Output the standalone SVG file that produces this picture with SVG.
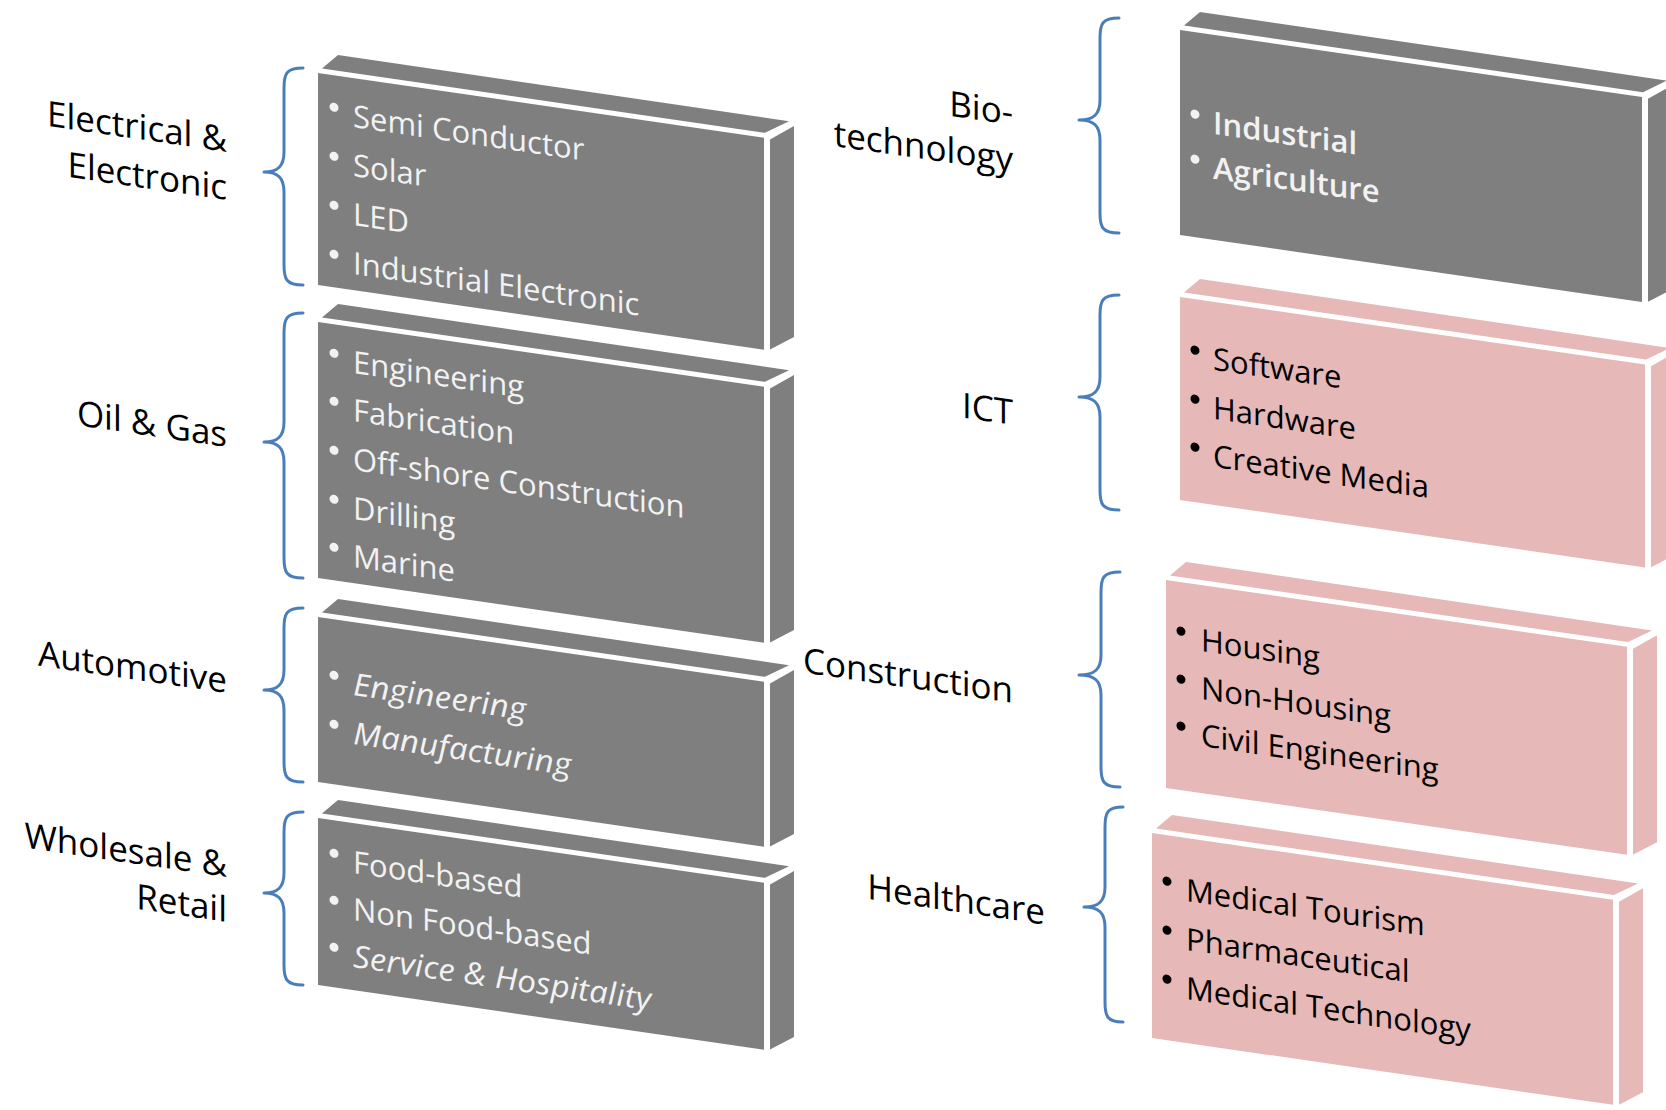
<svg xmlns="http://www.w3.org/2000/svg" width="1666" height="1110" viewBox="0 0 1666 1110">
<style>
.bg{fill:#ffffff}
.g{fill:#7f7f7f}
.p{fill:#e6b8b7}
.lbl{font-family:"Open Sans","Liberation Sans",sans-serif;font-size:35px;fill:#000;text-anchor:end}
.wt{font-family:"Open Sans","Liberation Sans",sans-serif;font-size:31px;fill:#f2f2f2}
.bt{font-family:"Open Sans","Liberation Sans",sans-serif;font-size:31px;fill:#000}
.it{font-style:italic}
.bd{font-weight:600}
.wb{fill:#f2f2f2}
.bb{fill:#000}
.brace{fill:none;stroke:#4a7ebb;stroke-width:3;stroke-linecap:round;stroke-linejoin:round}
</style>
<rect class="bg" x="0" y="0" width="1666" height="1110"/>

<g id="connectors">
<path class="brace" d="M303,68 C286,68 284,74 284,88 L284,152 C284,166 278,172 264,172 C278,172 284,178 284,192 L284,265 C284,279 286,285 303,285"/>
<path class="brace" d="M303,313 C286,313 284,319 284,333 L284,422 C284,436 278,442 264,442 C278,442 284,448 284,462 L284,558 C284,572 286,578 303,578"/>
<path class="brace" d="M303,608 C286,608 284,614 284,628 L284,670 C284,684 278,690 264,690 C278,690 284,696 284,710 L284,762 C284,776 286,782 303,782"/>
<path class="brace" d="M303,812 C286,812 284,818 284,832 L284,873 C284,887 278,893 264,893 C278,893 284,899 284,913 L284,965 C284,979 286,985 303,985"/>
<path class="brace" d="M1119,18 C1102,18 1100,24 1100,38 L1100,100 C1100,114 1094,120 1079,120 C1094,120 1100,126 1100,140 L1100,213 C1100,227 1102,233 1119,233"/>
<path class="brace" d="M1119,295 C1102,295 1100,301 1100,315 L1100,377 C1100,391 1094,397 1079,397 C1094,397 1100,403 1100,417 L1100,490 C1100,504 1102,510 1119,510"/>
<path class="brace" d="M1120,572 C1103,572 1101,578 1101,592 L1101,655 C1101,669 1095,675 1079,675 C1095,675 1101,681 1101,695 L1101,767 C1101,781 1103,787 1120,787"/>
<path class="brace" d="M1123,807 C1107,807 1105,813 1105,827 L1105,887 C1105,901 1099,907 1084,907 C1099,907 1105,913 1105,927 L1105,1002 C1105,1016 1107,1022 1123,1022"/>
</g>

<g id="labels" transform="matrix(1,0.145,0,1,0,0)">
<text class="lbl" x="227" y="119">Electrical &amp;</text>
<text class="lbl" x="227" y="167">Electronic</text>
<text class="lbl" x="227" y="414">Oil &amp; Gas</text>
<text class="lbl" x="227" y="660">Automotive</text>
<text class="lbl" x="227" y="844">Wholesale &amp;</text>
<text class="lbl" x="227" y="889">Retail</text>
<text class="lbl" x="1013" y="-22">Bio-</text>
<text class="lbl" x="1013" y="25">technology</text>
<text class="lbl" x="1013" y="278">ICT</text>
<text class="lbl" x="1013" y="556">Construction</text>
<text class="lbl" x="1045" y="773">Healthcare</text>
</g>

<g id="box-electrical" transform="matrix(1,0.145,0,1,318,73)">
<polygon class="g" points="4,-5 20,-21 471,-20 447,-5"/>
<rect class="g" x="0" y="0" width="446" height="212"/>
<polygon class="g" points="452,1 476,-16 476,195 452,211"/>
<circle class="wb" cx="16" cy="32" r="4.5"/><text class="wt" x="35" y="49">Semi Conductor</text>
<circle class="wb" cx="16" cy="81" r="4.5"/><text class="wt" x="35" y="98">Solar</text>
<circle class="wb" cx="16" cy="130" r="4.5"/><text class="wt" x="35" y="147">LED</text>
<circle class="wb" cx="16" cy="179" r="4.5"/><text class="wt" x="35" y="196">Industrial Electronic</text>
</g>

<g id="box-oilgas" transform="matrix(1,0.145,0,1,318,322)">
<polygon class="g" points="4,-5 20,-21 471,-20 447,-5"/>
<rect class="g" x="0" y="0" width="446" height="256"/>
<polygon class="g" points="452,1 476,-16 476,239 452,255"/>
<circle class="wb" cx="16" cy="29" r="4.5"/><text class="wt" x="35" y="46">Engineering</text>
<circle class="wb" cx="16" cy="77" r="4.5"/><text class="wt" x="35" y="94">Fabrication</text>
<circle class="wb" cx="16" cy="126" r="4.5"/><text class="wt" x="35" y="143">Off-shore Construction</text>
<circle class="wb" cx="16" cy="175" r="4.5"/><text class="wt" x="35" y="192">Drilling</text>
<circle class="wb" cx="16" cy="223" r="4.5"/><text class="wt" x="35" y="240">Marine</text>
</g>

<g id="box-automotive" transform="matrix(1,0.145,0,1,318,617)">
<polygon class="g" points="4,-5 20,-21 471,-20 447,-5"/>
<rect class="g" x="0" y="0" width="446" height="165"/>
<polygon class="g" points="452,1 476,-16 476,148 452,164"/>
<circle class="wb" cx="16" cy="56" r="4.5"/><text class="wt it" x="35" y="73" textLength="173" lengthAdjust="spacingAndGlyphs">Engineering</text>
<circle class="wb" cx="16" cy="105" r="4.5"/><text class="wt it" x="35" y="122" textLength="218" lengthAdjust="spacingAndGlyphs">Manufacturing</text>
</g>

<g id="box-wholesale" transform="matrix(1,0.145,0,1,318,818)">
<polygon class="g" points="4,-5 20,-21 471,-20 447,-5"/>
<rect class="g" x="0" y="0" width="446" height="167"/>
<polygon class="g" points="452,1 476,-16 476,150 452,166"/>
<circle class="wb" cx="16" cy="33" r="4.5"/><text class="wt" x="35" y="50">Food-based</text>
<circle class="wb" cx="16" cy="80" r="4.5"/><text class="wt" x="35" y="97">Non Food-based</text>
<circle class="wb" cx="16" cy="127" r="4.5"/><text class="wt it" x="35" y="144" textLength="298" lengthAdjust="spacingAndGlyphs">Service &amp; Hospitality</text>
</g>

<g id="box-biotech" transform="matrix(1,0.145,0,1,1180,30)">
<polygon class="g" points="4,-5 20,-21 487,-20 463,-5"/>
<rect class="g" x="0" y="0" width="462" height="205"/>
<polygon class="g" points="468,1 492,-16 492,188 468,204"/>
<circle class="wb" cx="15" cy="82" r="4.5"/><text class="wt bd" x="33" y="99">Industrial</text>
<circle class="wb" cx="15" cy="127" r="4.5"/><text class="wt bd" x="33" y="144">Agriculture</text>
</g>

<g id="box-ict" transform="matrix(1,0.145,0,1,1180,297)">
<polygon class="p" points="4,-5 20,-21 490,-20 466,-5"/>
<rect class="p" x="0" y="0" width="465" height="203"/>
<polygon class="p" points="471,1 495,-16 495,186 471,202"/>
<circle class="bb" cx="15" cy="51" r="4.5"/><text class="bt" x="33" y="68">Software</text>
<circle class="bb" cx="15" cy="100" r="4.5"/><text class="bt" x="33" y="117">Hardware</text>
<circle class="bb" cx="15" cy="148" r="4.5"/><text class="bt" x="33" y="165">Creative Media</text>
</g>

<g id="box-construction" transform="matrix(1,0.145,0,1,1166,580)">
<polygon class="p" points="4,-5 20,-21 486,-20 462,-5"/>
<rect class="p" x="0" y="0" width="461" height="208"/>
<polygon class="p" points="467,1 491,-16 491,191 467,207"/>
<circle class="bb" cx="15" cy="49" r="4.5"/><text class="bt" x="35" y="66">Housing</text>
<circle class="bb" cx="15" cy="97" r="4.5"/><text class="bt" x="35" y="114">Non-Housing</text>
<circle class="bb" cx="15" cy="144" r="4.5"/><text class="bt" x="35" y="161">Civil Engineering</text>
</g>

<g id="box-healthcare" transform="matrix(1,0.145,0,1,1152,833)">
<polygon class="p" points="4,-5 20,-21 486,-20 462,-5"/>
<rect class="p" x="0" y="0" width="461" height="205"/>
<polygon class="p" points="467,1 491,-16 491,188 467,204"/>
<circle class="bb" cx="15" cy="46" r="4.5"/><text class="bt" x="34" y="63">Medical Tourism</text>
<circle class="bb" cx="15" cy="95" r="4.5"/><text class="bt" x="34" y="112">Pharmaceutical</text>
<circle class="bb" cx="15" cy="144" r="4.5"/><text class="bt" x="34" y="161">Medical Technology</text>
</g>
</svg>
